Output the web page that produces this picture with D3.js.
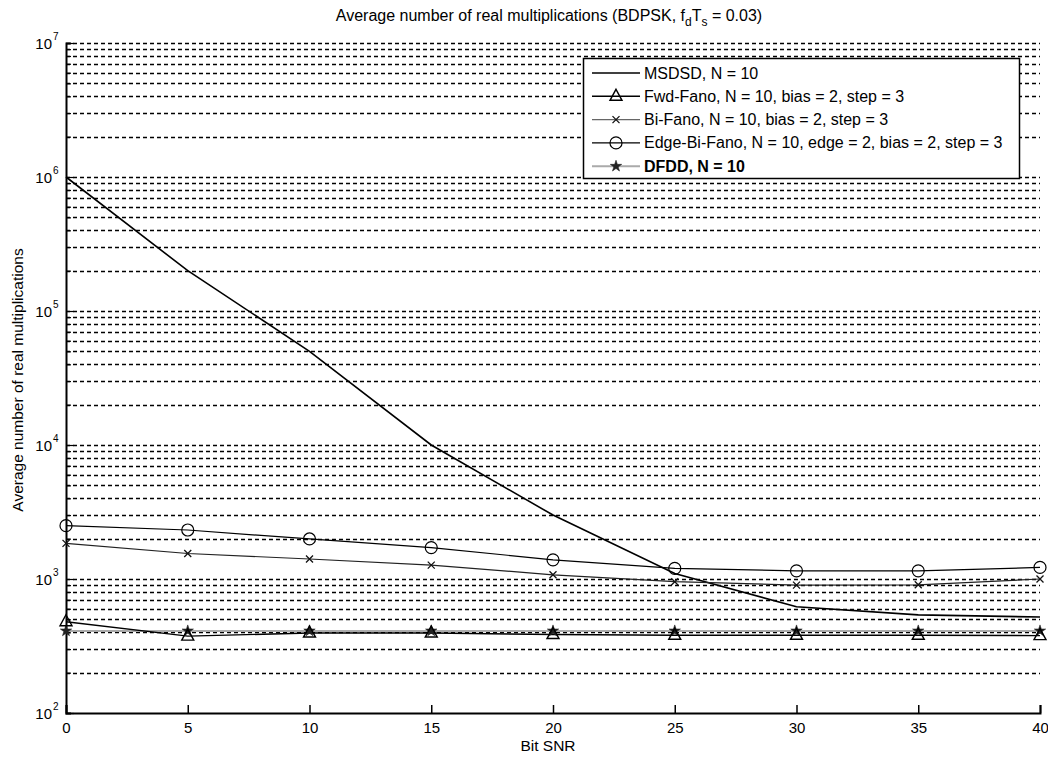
<!DOCTYPE html>
<html><head><meta charset="utf-8">
<script src="https://cdn.jsdelivr.net/npm/d3@7"></script>
<style>
html,body{margin:0;padding:0;background:#fff;}
svg{display:block;}
text{font-family:"Liberation Sans",Arial,Helvetica,sans-serif;fill:#000;}
</style></head>
<body>
<svg id="chart" width="1048" height="758"></svg>
<script>
// ---- data ----
const snr = [0, 5, 10, 15, 20, 25, 30, 35, 40];
const msdsd = [1000000, 200000, 50000, 10000, 3000, 1100, 620, 540, 520];
const fwdFano = [480, 375, 395, 395, 385, 380, 380, 380, 378];
const biFano = [1845, 1550, 1410, 1270, 1075, 955, 900, 905, 1000];
const edgeBiFano = [2500, 2320, 1990, 1715, 1390, 1200, 1150, 1150, 1220];
const dfdd = [410, 410, 410, 410, 410, 410, 410, 410, 410];
const xTicks = [0, 5, 10, 15, 20, 25, 30, 35, 40];
const yDecades = [2, 3, 4, 5, 6, 7];
const legendLabels = [
  "MSDSD, N = 10",
  "Fwd-Fano, N = 10, bias = 2, step = 3",
  "Bi-Fano, N = 10, bias = 2, step = 3",
  "Edge-Bi-Fano, N = 10, edge = 2, bias = 2, step = 3",
  "DFDD, N = 10"
];

const svg = d3.select("#chart");
svg.append("rect").attr("width",1048).attr("height",758).attr("fill","#fff");

const x = d3.scaleLinear().domain([0,40]).range([66,1040]);
const y = d3.scaleLog().domain([1e2,1e7]).range([713,43]);

// gridlines (major + minor)
const gridVals = [];
for (let e = 2; e < 7; e++) for (let m = 1; m <= 9; m++) gridVals.push(m*Math.pow(10,e));
gridVals.push(1e7);
svg.append("g").selectAll("line").data(gridVals.filter(v=>v>1e2)).join("line")
  .attr("x1",x(0)).attr("x2",x(40))
  .attr("y1",d=>Math.round(y(d))+0.5).attr("y2",d=>Math.round(y(d))+0.5)
  .attr("stroke","#000").attr("stroke-width",1.5).attr("stroke-dasharray","4,3");

// axes
const xAxis = d3.axisBottom(x).tickValues(xTicks).tickSize(-8).tickPadding(9).tickFormat(d3.format("d"));
const gx = svg.append("g").attr("transform","translate(0,713)").call(xAxis);
gx.select(".domain").attr("stroke","#000").attr("stroke-width",2);
gx.selectAll(".tick line").attr("stroke","#000").attr("stroke-width",1.5);
gx.selectAll(".tick text").style("font-size","15px").attr("font-family","Liberation Sans, Arial, sans-serif");

const yAxis = d3.axisLeft(y).tickValues(gridVals.filter(v=>v>=1e2)).tickSize(-5).tickFormat("");
const gy = svg.append("g").attr("transform","translate(66,0)").call(yAxis);
gy.select(".domain").attr("stroke","#000").attr("stroke-width",2);
gy.selectAll(".tick line").attr("stroke","#000").attr("stroke-width",1.2)
  .attr("x2",d=>{const l=Math.log10(d);return Math.abs(l-Math.round(l))<1e-9?8:5;});

// y tick labels 10^k
const yl = svg.append("g");
yDecades.forEach(k=>{
  yl.append("text").attr("x",52).attr("y",y(Math.pow(10,k))+6)
    .attr("text-anchor","end").style("font-size","15px").text("10");
  yl.append("text").attr("x",53).attr("y",y(Math.pow(10,k))-3)
    .style("font-size","10px").text(String(k));
});

// title
const title = svg.append("text").attr("x",549).attr("y",21).attr("text-anchor","middle").style("font-size","16px");
title.append("tspan").text("Average number of real multiplications (BDPSK, f");
title.append("tspan").attr("dy",5).style("font-size","12px").text("d");
title.append("tspan").attr("dy",-5).text("T");
title.append("tspan").attr("dy",5).style("font-size","12px").text("s");
title.append("tspan").attr("dy",-5).text(" = 0.03)");

// axis labels
svg.append("text").attr("x",548).attr("y",751).attr("text-anchor","middle").style("font-size","15.5px").text("Bit SNR");
svg.append("text").attr("transform","translate(23,380) rotate(-90)").attr("text-anchor","middle")
  .style("font-size","15.5px").text("Average number of real multiplications");

// marker helpers
function triangle(g, cx, cy){ g.append("path").attr("d",`M${cx},${cy-7}L${cx+6},${cy+4}L${cx-6},${cy+4}Z`).attr("fill","none").attr("stroke","#000").attr("stroke-width",1.4); }
function circle(g, cx, cy){ g.append("circle").attr("cx",cx).attr("cy",cy).attr("r",6).attr("fill","none").attr("stroke","#000").attr("stroke-width",1.2); }
function cross(g, cx, cy){ g.append("path").attr("d",`M${cx-3.5},${cy-3.5}L${cx+3.5},${cy+3.5}M${cx-3.5},${cy+3.5}L${cx+3.5},${cy-3.5}`).attr("stroke","#111").attr("stroke-width",1.3); }
function star(g, cx, cy){ g.append("path").attr("d",d3.symbol().type(d3.symbolStar).size(40)()).attr("transform",`translate(${cx},${cy})`).attr("fill","#222").attr("stroke","#222").attr("stroke-width",0.6); }

const line = d3.line().x((d,i)=>x(snr[i])).y(d=>y(d));
const plot = svg.append("g");

const series = [
  {v: msdsd, color:"#000", w:1.6, mk:null},
  {v: fwdFano, color:"#000", w:1.4, mk:triangle},
  {v: biFano, color:"#222", w:1.2, mk:cross},
  {v: edgeBiFano, color:"#000", w:1.2, mk:circle},
  {v: dfdd, color:"#aaa", w:2, mk:star}
];
[4,0,2,3,1].forEach(si=>{
  const s = series[si];
  plot.append("path").attr("d",line(s.v)).attr("fill","none").attr("stroke",s.color).attr("stroke-width",s.w);
});
[4,2,3,1].forEach(si=>{
  const s = series[si];
  s.v.forEach((d,i)=>s.mk(plot, x(snr[i]), y(d)));
});

// legend
const lg = svg.append("g");
lg.append("rect").attr("x",583.5).attr("y",58.5).attr("width",436).attr("height",120)
  .attr("fill","#fff").attr("stroke","#000").attr("stroke-width",1.5);
legendLabels.forEach((lab,i)=>{
  const cy = 73 + i*23.3;
  const s = series[i];
  lg.append("line").attr("x1",592).attr("x2",640).attr("y1",cy).attr("y2",cy)
    .attr("stroke", i===2?"#666":s.color).attr("stroke-width",s.w);
  if (s.mk) s.mk(lg, 616, cy);
  lg.append("text").attr("x",644).attr("y",cy+5.5).style("font-size","16px")
    .style("font-weight", i===4?"bold":"normal").text(lab);
});
</script>
</body></html>
